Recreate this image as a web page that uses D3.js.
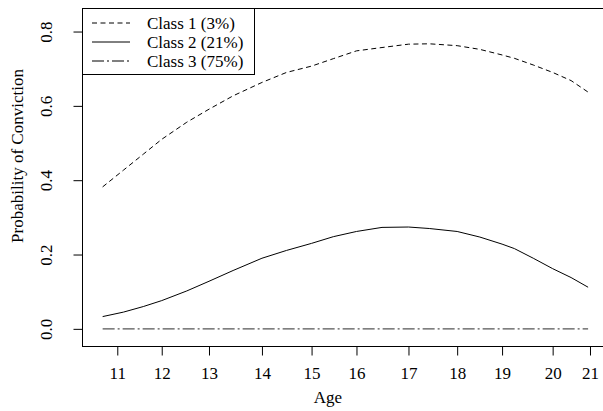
<!DOCTYPE html>
<html>
<head>
<meta charset="utf-8">
<script src="https://cdn.jsdelivr.net/npm/d3@7"></script>
<style>
  html, body { margin: 0; padding: 0; background: #fff; }
  svg { display: block; }
  text { font-family: "Liberation Serif", "Times New Roman", serif; fill: #000; }
</style>
</head>
<body>
<script>
// ---- data ----
const ages = [10.69, 11.13, 11.55, 11.94, 12.47, 12.94, 13.45, 14.06, 14.58, 15.11, 15.57, 16.06,
              16.6, 17.16, 17.6, 18.19, 18.67, 19.14, 19.4, 19.8, 20.21, 20.6, 20.96];
const class1 = [0.382, 0.427, 0.470, 0.510, 0.556, 0.591, 0.627, 0.663, 0.690, 0.707, 0.727, 0.748,
                0.757, 0.766, 0.767, 0.762, 0.752, 0.737, 0.728, 0.710, 0.690, 0.668, 0.637];
const class2 = [0.033, 0.045, 0.060, 0.076, 0.102, 0.128, 0.157, 0.190, 0.211, 0.230, 0.248, 0.262,
                0.273, 0.274, 0.270, 0.262, 0.247, 0.228, 0.216, 0.190, 0.162, 0.138, 0.112];
const class3 = [0, 0, 0, 0, 0, 0, 0, 0, 0, 0, 0, 0, 0, 0, 0, 0, 0, 0, 0, 0, 0, 0, 0];
const seriesNames = ["Class 1 (3%)", "Class 2 (21%)", "Class 3 (75%)"];
const xTickPositions = [11, 11.94, 12.94, 14.06, 15.11, 16.06, 17.16, 18.19, 19.14, 20.21, 21];
const xTickLabels = ["11", "12", "13", "14", "15", "16", "17", "18", "19", "20", "21"];
const yTicks = [0, 0.2, 0.4, 0.6, 0.8];
const xTitle = "Age";
const yTitle = "Probability of Conviction";

(function () {
// ---- layout ----
const W = 603, H = 411;
const pL = 82.5, pR = 609, pT = 8.5, pB = 346.5;
const fs = 17;

const svg = d3.select("body").append("svg").attr("width", W).attr("height", H);

const x = d3.scaleLinear().domain([10.264, 21.402]).range([pL, pR]);
const y = d3.scaleLinear().domain([-0.0475, 0.862]).range([pB, pT]);

const styles = [
  { dash: "5,3.5", color: "#000", width: 1 },
  { dash: null, color: "#000", width: 1 },
  { dash: "12,3,2,3", color: "#555", width: 1.4 }
];
const series = [class1, class2, class3];

const line = d3.line().x((d, i) => x(ages[i])).y(d => y(d));

series.forEach((vals, k) => {
  svg.append("path")
    .datum(vals)
    .attr("d", line)
    .attr("fill", "none")
    .attr("stroke", styles[k].color)
    .attr("stroke-width", styles[k].width)
    .attr("stroke-dasharray", styles[k].dash);
});

// frame
svg.append("rect")
  .attr("x", pL).attr("y", pT)
  .attr("width", pR - pL).attr("height", pB - pT)
  .attr("fill", "none").attr("stroke", "#000").attr("stroke-width", 1);

// x axis
const xAxis = d3.axisBottom(x)
  .tickValues(xTickPositions)
  .tickFormat((d, i) => xTickLabels[i])
  .tickSizeInner(9).tickSizeOuter(0).tickPadding(0);
const gx = svg.append("g").attr("transform", `translate(0,${pB})`).call(xAxis);
gx.select(".domain").remove();
gx.selectAll("line").attr("stroke", "#000");
gx.selectAll("text")
  .style("font-size", fs + "px").style("font-family", '"Liberation Serif", serif')
  .attr("dy", null).attr("y", 379 - pB);

// y axis
const yAxis = d3.axisLeft(y)
  .tickValues(yTicks)
  .tickFormat(d3.format(".1f"))
  .tickSizeInner(9).tickSizeOuter(0).tickPadding(0);
const gy = svg.append("g").attr("transform", `translate(${pL},0)`).call(yAxis);
gy.select(".domain").remove();
gy.selectAll("line").attr("stroke", "#000");
gy.selectAll("text")
  .style("font-size", fs + "px").style("font-family", '"Liberation Serif", serif')
  .attr("x", null).attr("dy", null).attr("y", null)
  .attr("text-anchor", "middle")
  .attr("transform", `translate(${52 - pL},0) rotate(-90)`);

// titles
svg.append("text").attr("x", 328).attr("y", 403)
  .attr("text-anchor", "middle").style("font-size", fs + "px").text(xTitle);
svg.append("text")
  .attr("transform", `translate(23,156) rotate(-90)`)
  .attr("text-anchor", "middle").style("font-size", fs + "px").text(yTitle);

// legend
const lg = svg.append("g");
const lgRight = 254.5, lgBottom = 74.5;
lg.append("rect").attr("x", pL).attr("y", pT)
  .attr("width", lgRight - pL).attr("height", lgBottom - pT)
  .attr("fill", "#fff").attr("stroke", "#000").attr("stroke-width", 1);
seriesNames.forEach((name, k) => {
  const ry = 23 + k * 19;
  lg.append("line").attr("x1", 92).attr("x2", 130).attr("y1", ry).attr("y2", ry)
    .attr("stroke", styles[k].color).attr("stroke-width", styles[k].width)
    .attr("stroke-dasharray", styles[k].dash);
  lg.append("text").attr("x", 147).attr("y", ry + 6)
    .style("font-size", fs + "px").text(name);
});
})();
</script>
</body>
</html>
